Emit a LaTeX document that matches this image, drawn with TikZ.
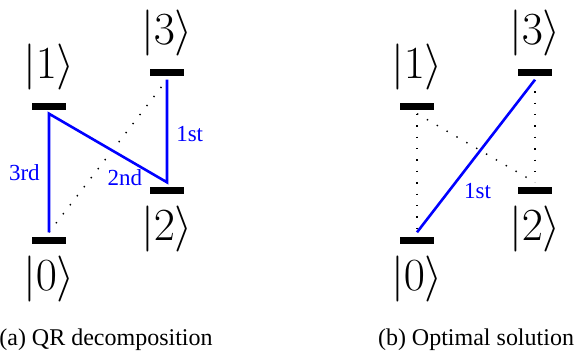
\RequirePackage{fix-cm}
\documentclass[tikz,border=0pt]{standalone}
\usepackage{amsmath,amssymb}
\usepackage{fontspec}
\setmainfont{Liberation Serif}
\usetikzlibrary{positioning}

\begin{document}
\begin{tikzpicture}[x=1pt,y=-1pt,
  bar/.style={fill=black,inner sep=0pt,minimum width=34pt,minimum height=7pt},
  ket/.style={inner sep=0pt,font=\fontsize{46}{52}\selectfont},
  lbl/.style={blue,inner sep=0pt,font=\fontsize{23}{26}\selectfont},
  link/.style={blue,line width=2.6pt},
  hop/.style={line width=1.4pt,dash pattern=on 1.4pt off 10pt},
  capt/.style={anchor=base,inner sep=0pt,font=\fontsize{24}{28}\selectfont}]
\useasboundingbox (0,0) rectangle (574,354);
% (a) QR decomposition
\node[bar] (a0) at (49,240) {};
\node[bar] (a1) at (49,106) {};
\node[bar] (a2) at (167,190) {};
\node[bar] (a3) at (167,72) {};
\node[ket,below=12pt of a0] (k0) {$|0\rangle$};
\node[ket,above=12pt of a1] (k1) {$|1\rangle$};
\node[ket,below=12pt of a2] (k2) {$|2\rangle$};
\node[ket,above=12pt of a3] (k3) {$|3\rangle$};
\draw[hop] ([yshift=4pt]a0.north) -- ([yshift=-4pt]a3.south);
\draw[link] ([yshift=4pt]a0.north)
  -- node[lbl,left=8pt] {3rd} ([yshift=-4pt]a1.south)
  -- node[lbl,pos=.8,anchor=north east] {2nd} ([yshift=4pt]a2.north)
  -- node[lbl,right=8pt,yshift=-3pt] {1st} ([yshift=-4pt]a3.south);
\node[capt] (ca) at (106,345) {(a) QR decomposition};
% (b) Optimal solution
\node[bar] (b0) at (417,240) {};
\node[bar] (b1) at (417,106) {};
\node[bar] (b2) at (535,190) {};
\node[bar] (b3) at (535,72) {};
\node[ket,below=12pt of b0] (m0) {$|0\rangle$};
\node[ket,above=12pt of b1] (m1) {$|1\rangle$};
\node[ket,below=12pt of b2] (m2) {$|2\rangle$};
\node[ket,above=12pt of b3] (m3) {$|3\rangle$};
\draw[hop] ([yshift=-4pt]b1.south) -- ([yshift=4pt]b0.north);
\draw[hop] ([yshift=-4pt]b1.south) -- ([yshift=4pt]b2.north);
\draw[hop] ([yshift=-4pt]b3.south) -- ([yshift=4pt]b2.north);
\draw[link] ([yshift=4pt]b0.north)
  -- node[lbl,pos=.33,anchor=north west,xshift=7pt] {1st} ([yshift=-4pt]b3.south);
\node[capt] (cb) at (476,345) {(b) Optimal solution};
\end{tikzpicture}
\end{document}
